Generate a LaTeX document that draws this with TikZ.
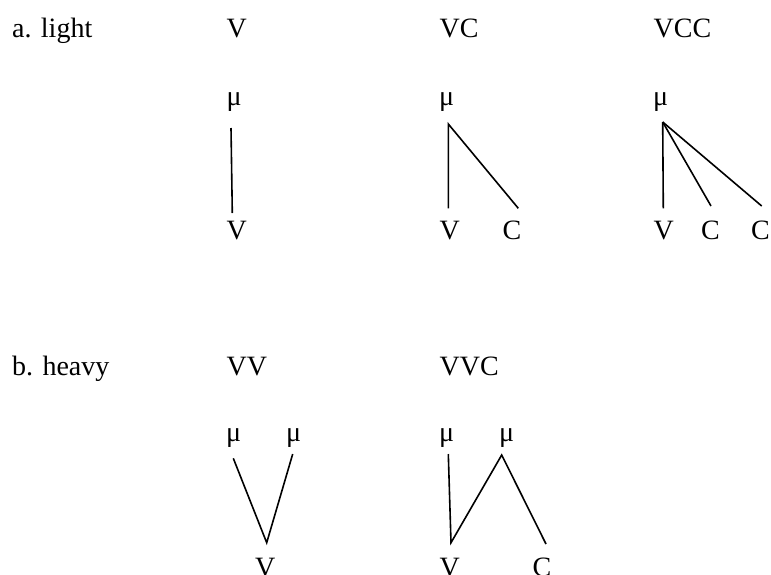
\documentclass[tikz,border=0pt]{standalone}
\usepackage{fontspec}
\setmainfont{Liberation Serif}
\begin{document}
\begin{tikzpicture}[x=1pt,y=-1pt,
  lbl/.style={anchor=base west,inner sep=0pt,font=\fontsize{28}{34}\selectfont},
  branch/.style={line width=1.6pt}]
\useasboundingbox (0,0) rectangle (771,574);
% row a
\node[lbl] (la) at (12,37) {a. light};
\node[lbl] (t1) at (226.5,37) {V};
\node[lbl] (t2) at (439.5,37) {VC};
\node[lbl] (t3) at (653.5,37) {VCC};
% V
\node[lbl] (m1) at (226.5,105) {μ};
\node[lbl] (v1) at (226.5,239) {V};
\coordinate (j1) at (231,128);
\coordinate (e1) at (232.3,213);
\draw[branch] (j1) -- (e1);
% VC
\node[lbl] (m2) at (439,105) {μ};
\node[lbl] (v2) at (439.5,239) {V};
\node[lbl] (c2) at (502.5,239) {C};
\coordinate (j2) at (448.3,124);
\coordinate (e2v) at (448.3,208.3);
\coordinate (e2c) at (518.3,208.3);
\draw[branch] (e2v) -- (j2) -- (e2c);
% VCC
\node[lbl] (m3) at (653,105) {μ};
\node[lbl] (v3) at (653.5,239) {V};
\node[lbl] (c3a) at (701,239) {C};
\node[lbl] (c3b) at (751,239) {C};
\coordinate (j3) at (662.7,122);
\coordinate (e3v) at (663.3,208.3);
\coordinate (e3a) at (711,206);
\coordinate (e3b) at (761.7,206);
\draw[branch] (j3) -- (e3v);
\draw[branch] (j3) -- (e3a);
\draw[branch] (j3) -- (e3b);
% row b
\node[lbl] (lb) at (12,375) {b. heavy};
\node[lbl] (t4) at (226.5,375) {VV};
\node[lbl] (t5) at (439.5,375) {VVC};
% VV
\node[lbl] (m4a) at (226,441) {μ};
\node[lbl] (m4b) at (286,441) {μ};
\node[lbl] (v4) at (255,576) {V};
\coordinate (j4a) at (233.3,458.3);
\coordinate (j4b) at (292.7,454);
\coordinate (e4) at (266.7,542.7);
\draw[branch] (j4a) -- (e4) -- (j4b);
% VVC
\node[lbl] (m5a) at (439,441) {μ};
\node[lbl] (m5b) at (499,441) {μ};
\node[lbl] (v5) at (439.5,576) {V};
\node[lbl] (c5) at (532.5,576) {C};
\coordinate (j5a) at (448.3,454);
\coordinate (e5v) at (451,542.7);
\coordinate (j5b) at (501.7,455);
\coordinate (e5c) at (546,544);
\draw[branch,line join=miter] (j5a) -- (e5v) -- (j5b) -- (e5c);
\end{tikzpicture}
\end{document}
